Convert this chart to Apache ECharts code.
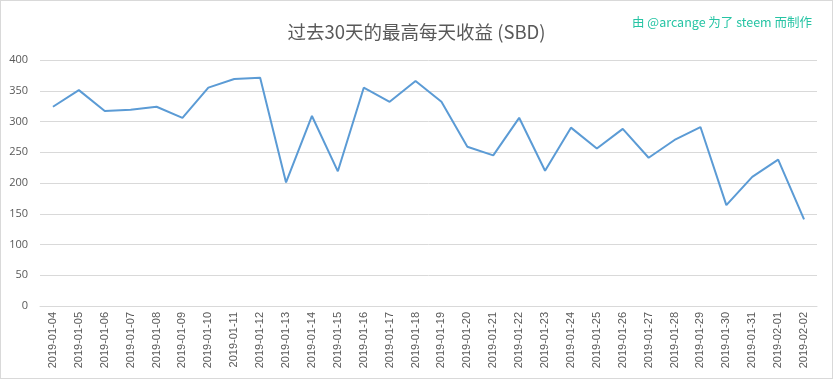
<!DOCTYPE html>
<html><head><meta charset="utf-8">
<script src="https://cdn.jsdelivr.net/npm/echarts@6/dist/echarts.min.js"></script>
<style>html,body{margin:0;padding:0;background:#fff}#c{width:833px;height:379px;box-sizing:border-box;border:1px solid #d9d9d9}</style>
</head><body><div id="c"></div>
<script>
const categories = ["2019-01-04","2019-01-05","2019-01-06","2019-01-07","2019-01-08","2019-01-09","2019-01-10","2019-01-11","2019-01-12","2019-01-13","2019-01-14","2019-01-15","2019-01-16","2019-01-17","2019-01-18","2019-01-19","2019-01-20","2019-01-21","2019-01-22","2019-01-23","2019-01-24","2019-01-25","2019-01-26","2019-01-27","2019-01-28","2019-01-29","2019-01-30","2019-01-31","2019-02-01","2019-02-02"];
const values = [324,351,317,319,324,306,355,369,371,201,309,219,355,332,366,332,259,245,306,220,290,256,288,241,270,291,164,210,238,141];
const titleText = "过去30天的最高每天收益 (SBD)";
const creditText = "由 @arcange 为了 steem 而制作";

const chart = echarts.init(document.getElementById('c'), null, {renderer:'canvas'});
chart.setOption({
  animation:false,
  backgroundColor:'#fff',
  title:[
    {text:titleText, left:'center', top:17, textStyle:{fontFamily:'"Noto Sans CJK SC", sans-serif', fontSize:18.5, fontWeight:'normal', color:'#595959'}},
    {text:creditText, right:15, top:10, textStyle:{fontFamily:'"Noto Sans CJK SC", sans-serif', fontSize:12.5, fontWeight:'normal', color:'#26c4a4'}}
  ],
  grid:{left:39, right:15, top:59, bottom:72},
  xAxis:{type:'category', data:categories, boundaryGap:true,
    axisLine:{lineStyle:{color:'#d9d9d9'}}, axisTick:{show:false},
    axisLabel:{rotate:90, interval:0, fontFamily:'"Liberation Sans", sans-serif', fontSize:11, color:'#595959', margin:6}},
  yAxis:{type:'value', min:0, max:400, interval:50,
    axisLine:{show:false}, axisTick:{show:false},
    splitLine:{lineStyle:{color:'#d9d9d9'}},
    axisLabel:{fontFamily:'"Open Sans", sans-serif', fontSize:11, color:'#595959', margin:12}},
  series:[{type:'line', data:values, symbol:'none', lineStyle:{color:'#5b9bd5', width:2}, itemStyle:{color:'#5b9bd5'}}]
});
</script></body></html>
